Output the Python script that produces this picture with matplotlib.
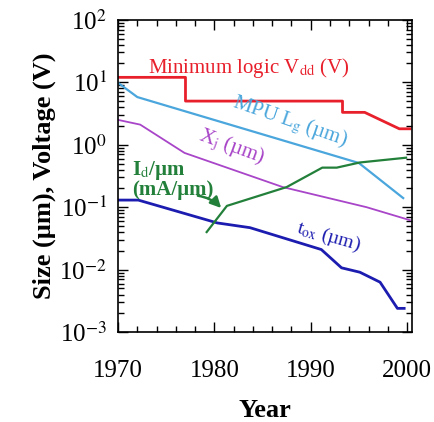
import matplotlib
matplotlib.use("Agg")
import matplotlib.pyplot as plt
from matplotlib.ticker import MultipleLocator, LogLocator, NullFormatter

plt.rcParams['font.family'] = ['Liberation Serif', 'DejaVu Serif']
plt.rcParams['mathtext.fontset'] = 'stix'

# minimum logic Vdd (V)
vdd_year = [1970, 1977, 1977, 1993.3, 1993.3, 1995.6, 1999.2, 2000.3]
vdd_val = [12, 12, 5, 5, 3.3, 3.3, 1.8, 1.8]

# MPU gate length (um)
lg_year = [1970, 1972, 1995, 1999.6]
lg_val = [9.8, 5.8, 0.51, 0.14]

# junction depth Xj (um)
xj_year = [1970, 1972.3, 1976.9, 1987.1, 1995.8, 2000.3]
xj_val = [2.5, 2.1, 0.74, 0.21, 0.1, 0.062]

# oxide thickness (um)
tox_year = [1970, 1972.1, 1980.3, 1983.7, 1991.1, 1993.2, 1995.1, 1997.2, 1999.0, 1999.7]
tox_val = [0.13, 0.13, 0.056, 0.047, 0.021, 0.0107, 0.0091, 0.0063, 0.0024, 0.0024]

# drive current Id/um (mA/um)
id_year = [1979.2, 1981.3, 1987.5, 1991.2, 1992.7, 1995.1, 1999.9]
id_val = [0.04, 0.105, 0.21, 0.43, 0.43, 0.52, 0.62]

ytick_vals = [1e-3, 1e-2, 1e-1, 1e0, 1e1, 1e2]
ytick_labels = ['10$^{-3}$', '10$^{-2}$', '10$^{-1}$', '10$^{0}$', '10$^{1}$', '10$^{2}$']

fig = plt.figure(figsize=(4.34, 4.22), dpi=100)
ax = fig.add_axes([0.272, 0.213, 0.677, 0.74])

ax.plot(vdd_year, vdd_val, color='#e8202c', lw=2)
ax.plot(lg_year, lg_val, color='#4aa6dc', lw=1.6)
ax.plot(xj_year, xj_val, color='#a845c8', lw=1.3)
ax.plot(tox_year, tox_val, color='#1c1cb0', lw=2)
ax.plot(id_year, id_val, color='#23803a', lw=1.6)

ax.set_yscale('log')
ax.set_xlim(1970, 2000.5)
ax.set_ylim(1e-3, 1e2)
ax.xaxis.set_major_locator(MultipleLocator(10))
ax.xaxis.set_minor_locator(MultipleLocator(2))
ax.set_yticks(ytick_vals)
ax.set_yticklabels(ytick_labels)
ax.yaxis.set_minor_locator(LogLocator(base=10, subs=range(2, 10), numticks=10))
ax.yaxis.set_minor_formatter(NullFormatter())
ax.tick_params(which='both', direction='in', top=True, right=True, width=1)
ax.tick_params(which='major', length=7, labelsize=18)
ax.tick_params(axis='x', which='major', pad=20)
ax.tick_params(axis='y', which='major', pad=8)
ax.tick_params(which='minor', length=4)
for s in ax.spines.values():
    s.set_linewidth(1.2)

ax.set_xlabel('Year', fontsize=19, fontweight='bold', labelpad=12)
ax.set_ylabel('Size (µm), Voltage (V)', fontsize=19, fontweight='bold', labelpad=2)

ax.text(1973.1, 14.0, 'Minimum logic V$_{\\mathrm{dd}}$ (V)', color='#e8202c', fontsize=15)
ax.text(1987.8, 2.3, 'MPU L$_\\mathrm{g}$ (µm)', color='#4aa6dc', fontsize=15,
        rotation=-19, ha='center', va='center')
ax.text(1981.8, 0.92, 'X$_\\mathrm{j}$ (µm)', color='#a845c8', fontsize=15,
        rotation=-20, ha='center', va='center')
ax.text(1991.8, 0.033, 't$_\\mathrm{ox}$ (µm)', color='#1c1cb0', fontsize=14,
        rotation=-16, ha='center', va='center')
ax.text(1971.5, 0.155, 'I$_\\mathrm{d}$/µm\n(mA/µm)', color='#23803a', fontsize=15,
        fontweight='bold', linespacing=0.9)
ax.annotate('', xy=(1980.9, 0.09), xytext=(1978.0, 0.155),
            arrowprops=dict(arrowstyle='-|>', color='#23803a', lw=1.8,
                            mutation_scale=16, connectionstyle='arc3,rad=-0.2'))

fig.savefig('out.png', dpi=100)
